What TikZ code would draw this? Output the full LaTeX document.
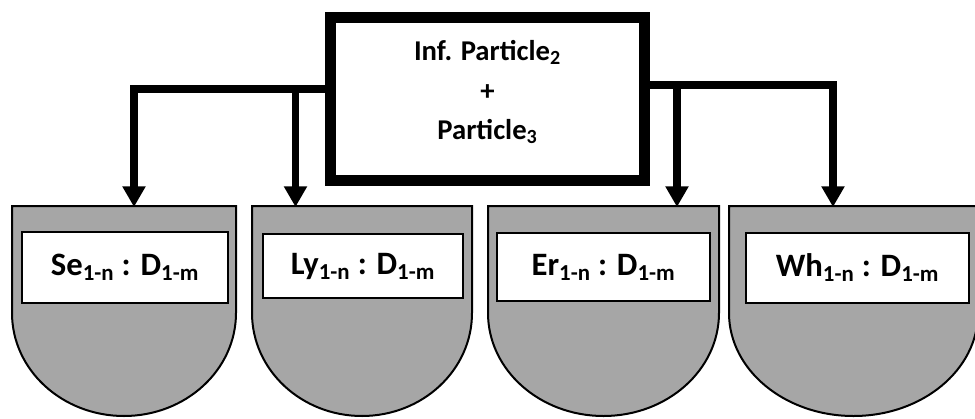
\documentclass[tikz,border=0pt]{standalone}
\usepackage{fontspec}
\setmainfont{Carlito}
\usetikzlibrary{arrows.meta}
\definecolor{shieldgray}{RGB}{166,166,166}

\begin{document}
\begin{tikzpicture}[x=0.75pt,y=-0.75pt,
  mainbox/.style={draw,line width=8.25pt,minimum width=236pt,minimum height=122pt},
  maintext/.style={align=center,font=\fontsize{21.5}{26}\selectfont\bfseries},
  shield/.style={draw,fill=shieldgray,line width=1.5pt},
  tag/.style={draw,fill=white,line width=1.1pt,inner sep=0pt,
    font=\fontsize{24.5}{30}\selectfont\bfseries},
  conn/.style={line width=5.6pt,-{Triangle[width=16.5pt,length=15.5pt]}}]
  \useasboundingbox (0,0) rectangle (975,418);
  % Shields: left/right edges
  \foreach \l/\r in {12/236, 252/472, 488/719, 729/978}
    \draw[shield] (\l,206) -- (\r,206) -- (\r,313)
      arc[start angle=0,end angle=180,x radius={(\r-\l)/2},y radius=103] -- cycle;
  % Labels on the shields
  \node[tag,minimum width=154.5pt,minimum height=53pt] (se) at (125,267.5) {Se\textsubscript{1-n} : D\textsubscript{1-m}};
  \node[tag,minimum width=150pt,minimum height=48pt] (ly) at (363,266) {Ly\textsubscript{1-n} : D\textsubscript{1-m}};
  \node[tag,minimum width=160pt,minimum height=51pt] (er) at (603.5,267) {Er\textsubscript{1-n} : D\textsubscript{1-m}};
  \node[tag,minimum width=167pt,minimum height=52.5pt] (wh) at (857.5,268) {Wh\textsubscript{1-n} : D\textsubscript{1-m}};
  % Top box
  \node[mainbox] (inf) at (487.5,98.75) {};
  \node[maintext] (inftext) at ([yshift=5pt]inf.center)
    {Inf. Particle\textsubscript{2}\\[3.5pt]+\\[3.5pt]Particle\textsubscript{3}};
  % Arrow ends on the shield tops
  \coordinate (seTop) at (134,207);
  \coordinate (lyTop) at (295.5,207);
  \coordinate (erTop) at (677,207);
  \coordinate (whTop) at (833,207);
  \coordinate (lj) at (inf.west |- 0,89);
  \coordinate (rj) at (inf.east |- 0,85);
  \draw[conn] (lj) -| (seTop);
  \draw[conn] (lj -| lyTop) -- (lyTop);
  \draw[conn] (rj) -| (whTop);
  \draw[conn] (rj -| erTop) -- (erTop);
\end{tikzpicture}
\end{document}
